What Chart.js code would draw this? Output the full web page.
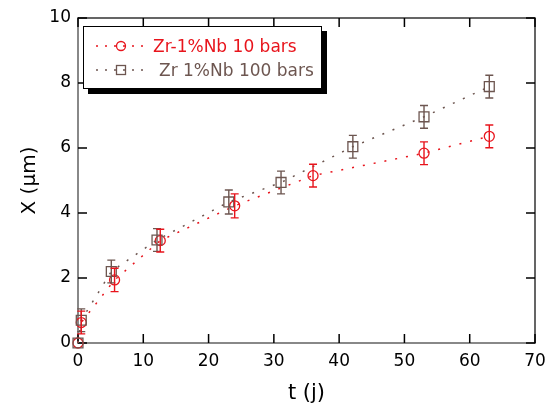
<!DOCTYPE html>
<html><head><meta charset="utf-8">
<script src="https://cdn.jsdelivr.net/npm/chart.js@4/dist/chart.umd.min.js"></script>
<style>
html,body{margin:0;padding:0;background:#fff;overflow:hidden}
#wrap{position:relative;width:555px;height:409px}
#legend{position:absolute;left:83px;top:26px;width:237px;height:61px;border:1px solid #000;box-shadow:5px 5px 0 #000;background:#fff;font-family:"DejaVu Sans",sans-serif;font-size:17px}
#legend .row{position:absolute;left:0;height:20px;white-space:nowrap}
#legend svg{position:absolute;left:10px;top:0}
#legend span{position:absolute;top:0;line-height:20px}
</style></head>
<body><div id="wrap"><canvas id="c" width="555" height="409"></canvas>
<div id="legend">
  <div class="row" style="top:9px;width:237px">
    <svg width="56" height="20"><line x1="2" y1="10" x2="54" y2="10" stroke="#e8141c" stroke-width="1.5" stroke-dasharray="2,7"/><circle cx="27" cy="10" r="4.5" fill="none" stroke="#e8141c" stroke-width="1.3"/></svg>
    <span style="left:69px;color:#e8141c">Zr-1%Nb 10 bars</span>
  </div>
  <div class="row" style="top:33px;width:237px">
    <svg width="56" height="20"><line x1="2" y1="10" x2="54" y2="10" stroke="#6d5650" stroke-width="1.5" stroke-dasharray="2,7"/><rect x="22.5" y="5.5" width="9" height="9" fill="none" stroke="#6d5650" stroke-width="1.3"/></svg>
    <span style="left:75px;color:#6d5650">Zr 1%Nb 100 bars</span>
  </div>
</div></div>
<script>
const seriesLabels = ["Zr-1%Nb 10 bars", "Zr 1%Nb 100 bars"];
const t10   = [0, 0.5, 5.6, 12.6, 24, 36, 53, 63];
const x10   = [0, 0.63, 1.94, 3.15, 4.22, 5.15, 5.84, 6.36];
const err10 = [0, 0.35, 0.36, 0.35, 0.37, 0.35, 0.35, 0.35];
const t100   = [0, 0.5, 5.1, 12.1, 23.1, 31.1, 42.1, 53, 63];
const x100   = [0, 0.7, 2.2, 3.17, 4.34, 4.94, 6.04, 6.96, 7.89];
const err100 = [0, 0.35, 0.35, 0.35, 0.37, 0.35, 0.35, 0.35, 0.35];
const xTicks = [0, 10, 20, 30, 40, 50, 60, 70];
const yTicks = [0, 2, 4, 6, 8, 10];

const RED = '#e8141c', GREY = '#6d5650';
const FONT = '"DejaVu Sans", sans-serif';

const errPlugin = {
  id: 'errbars',
  afterDatasetsDraw(chart) {
    const ctx = chart.ctx, xs = chart.scales.x, ys = chart.scales.y;
    chart.data.datasets.forEach(ds => {
      if (!ds.err) return;
      ctx.save();
      ctx.strokeStyle = ds.borderColor; ctx.lineWidth = 1.4;
      ds.data.forEach((p, i) => {
        const e = ds.err[i]; if (!e) return;
        const px = xs.getPixelForValue(p.x);
        const y1 = ys.getPixelForValue(p.y + e), y2 = ys.getPixelForValue(p.y - e);
        ctx.beginPath();
        ctx.moveTo(px, y1); ctx.lineTo(px, y2);
        ctx.moveTo(px - 4, y1); ctx.lineTo(px + 4, y1);
        ctx.moveTo(px - 4, y2); ctx.lineTo(px + 4, y2);
        ctx.stroke();
      });
      ctx.restore();
    });
  }
};
const framePlugin = {
  id: 'frame',
  beforeDatasetsDraw(chart) {
    const ctx = chart.ctx, a = chart.chartArea, xs = chart.scales.x, ys = chart.scales.y;
    ctx.save();
    ctx.lineWidth = 1.5;
    ctx.strokeStyle = '#333';
    ctx.beginPath();
    ctx.moveTo(a.left, a.top); ctx.lineTo(a.right, a.top); ctx.lineTo(a.right, a.bottom);
    ctx.stroke();
    ctx.strokeStyle = '#000';
    const L = 9;
    ctx.beginPath();
    xTicks.forEach(v => {
      const px = xs.getPixelForValue(v);
      ctx.moveTo(px, a.bottom); ctx.lineTo(px, a.bottom - L);
      ctx.moveTo(px, a.top); ctx.lineTo(px, a.top + L);
    });
    yTicks.forEach(v => {
      const py = ys.getPixelForValue(v);
      ctx.moveTo(a.left, py); ctx.lineTo(a.left + L, py);
      ctx.moveTo(a.right, py); ctx.lineTo(a.right - L, py);
    });
    ctx.stroke();
    ctx.restore();
  }
};

new Chart(document.getElementById('c'), {
  type: 'scatter',
  data: {
    datasets: [
      { label: seriesLabels[1], data: t100.map((t, i) => ({x: t, y: x100[i]})), err: err100, clip: false,
        showLine: true, borderColor: GREY, backgroundColor: 'transparent', borderWidth: 1.5, borderDash: [2, 9],
        pointStyle: 'rect', pointRadius: 7, pointBorderWidth: 1.3, pointBorderColor: GREY },
      { label: seriesLabels[0], data: t10.map((t, i) => ({x: t, y: x10[i]})), err: err10, clip: false,
        showLine: true, borderColor: RED, backgroundColor: 'transparent', borderWidth: 1.5, borderDash: [2, 9],
        pointStyle: 'circle', pointRadius: 5, pointBorderWidth: 1.3, pointBorderColor: RED }
    ]
  },
  options: {
    responsive: false, animation: false, devicePixelRatio: 1,
    layout: { padding: { top: 18, right: 20, left: 0, bottom: 0 } },
    plugins: { legend: { display: false }, tooltip: { enabled: false } },
    scales: {
      x: {
        type: 'linear', min: 0, max: 70,
        afterFit(s) { s.height = 66; },
        afterBuildTicks(s) { s.ticks = xTicks.map(v => ({value: v})); },
        grid: { display: false, drawTicks: false },
        border: { display: true, color: '#888', width: 2 },
        ticks: { color: '#000', padding: 8, font: { family: FONT, size: 17 } },
        title: { display: true, text: 't (j)', color: '#000', font: { family: FONT, size: 21 }, padding: { top: 0, bottom: 3 } }
      },
      y: {
        type: 'linear', min: 0, max: 10,
        afterFit(s) { s.width = 78; },
        afterBuildTicks(s) { s.ticks = yTicks.map(v => ({value: v})); },
        grid: { display: false, drawTicks: false },
        border: { display: true, color: '#888', width: 2 },
        ticks: { color: '#000', padding: 7, font: { family: FONT, size: 17 } },
        title: { display: true, text: 'X (μm)', color: '#000', font: { family: FONT, size: 20 }, padding: { top: 18, bottom: 0 } }
      }
    }
  },
  plugins: [errPlugin, framePlugin]
});
</script>
</body></html>
